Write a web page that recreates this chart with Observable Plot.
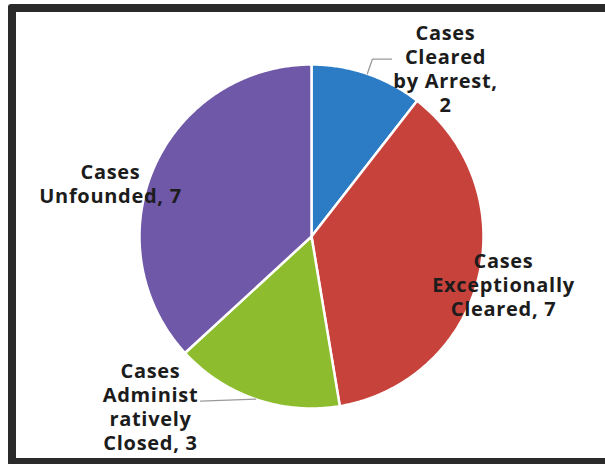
<!DOCTYPE html>
<html><head><meta charset="utf-8">
<script src="https://cdn.jsdelivr.net/npm/d3@7"></script>
<script src="https://cdn.jsdelivr.net/npm/@observablehq/plot@0.6"></script>
<style>
html,body{margin:0;padding:0;background:#fff;width:605px;height:464px;overflow:hidden}
#frame{position:absolute;left:8px;top:4px;width:640px;height:446px;border:8px solid #2a2a2a;border-radius:3px;box-sizing:content-box}
#chart{position:absolute;left:0;top:0}
</style></head><body>
<div id="frame"></div><div id="chart"></div>
<script>
// ---- data ----
const categories = ["Cases Cleared by Arrest", "Cases Exceptionally Cleared", "Cases Administratively Closed", "Cases Unfounded"];
const values = [2, 7, 3, 7];
const labelLines = [
  ["Cases", "Cleared", "by Arrest,", "{v}"],
  ["Cases", "Exceptionally", "Cleared, {v}"],
  ["Cases", "Administ", "ratively", "Closed, {v}"],
  ["Cases", "Unfounded, {v}"]
];
const colors = ["#2b7cc5", "#c8423c", "#8dbd2e", "#6f58a7"];

// ---- layout (pixels) ----
const W = 605, H = 464;
const cx = 311, cy = 236, R = 172;
const labelPos = [[445, 68], [503, 284], [150, 406], [110, 183]];
// leader: [elbow radius factor or null, end x]
const leaders = [[1.09, 391], null, [null, 200], null];

const arcs = d3.pie().sort(null).value(d => d)(values);
const pt = (a, r) => [cx + r * Math.sin(a), cy - r * Math.cos(a)];

const slicePts = [];
arcs.forEach((a, i) => {
  const cat = categories[i];
  slicePts.push({cat, x: cx, y: cy});
  const n = Math.max(2, Math.ceil((a.endAngle - a.startAngle) / (Math.PI / 360)));
  for (let k = 0; k <= n; k++) {
    const ang = a.startAngle + (a.endAngle - a.startAngle) * k / n;
    const [x, y] = pt(ang, R);
    slicePts.push({cat, x, y});
  }
  slicePts.push({cat, x: cx, y: cy});
});

const labels = arcs.map((a, i) => ({
  x: labelPos[i][0], y: labelPos[i][1],
  text: labelLines[i].map(s => s.replace("{v}", values[i])).join("\n")
}));

const leaderPts = [];
arcs.forEach((a, i) => {
  const L = leaders[i];
  if (!L) return;
  const mid = (a.startAngle + a.endAngle) / 2;
  const [x0, y0] = pt(mid, R);
  leaderPts.push({id: i, x: x0, y: y0});
  let yl = y0;
  if (L[0]) { const [x1, y1] = pt(mid, R * L[0]); leaderPts.push({id: i, x: x1, y: y1}); yl = y1; }
  leaderPts.push({id: i, x: L[1], y: yl + (L[0] ? 0 : 2)});
});

const chart = Plot.plot({
  width: W, height: H,
  margin: 0,
  x: {domain: [0, W], range: [0, W], axis: null},
  y: {domain: [0, H], range: [0, H], axis: null},
  color: {domain: categories, range: colors},
  style: {background: "transparent", letterSpacing: "0.7px"},
  marks: [
    Plot.line(slicePts, {x: "x", y: "y", z: "cat", fill: "cat", stroke: "white", strokeWidth: 2.5, strokeLinejoin: "round", curve: "linear"}),
    Plot.line(leaderPts, {x: "x", y: "y", z: "id", stroke: "#9a9a9a", strokeWidth: 1.3}),
    Plot.text(labels, {x: "x", y: "y", text: "text", fontSize: 20, fontWeight: 700, lineHeight: 1.2, fill: "#1c1c1c", fontFamily: "'Open Sans', sans-serif"})
  ]
});
document.getElementById("chart").appendChild(chart);
</script>
</body></html>
